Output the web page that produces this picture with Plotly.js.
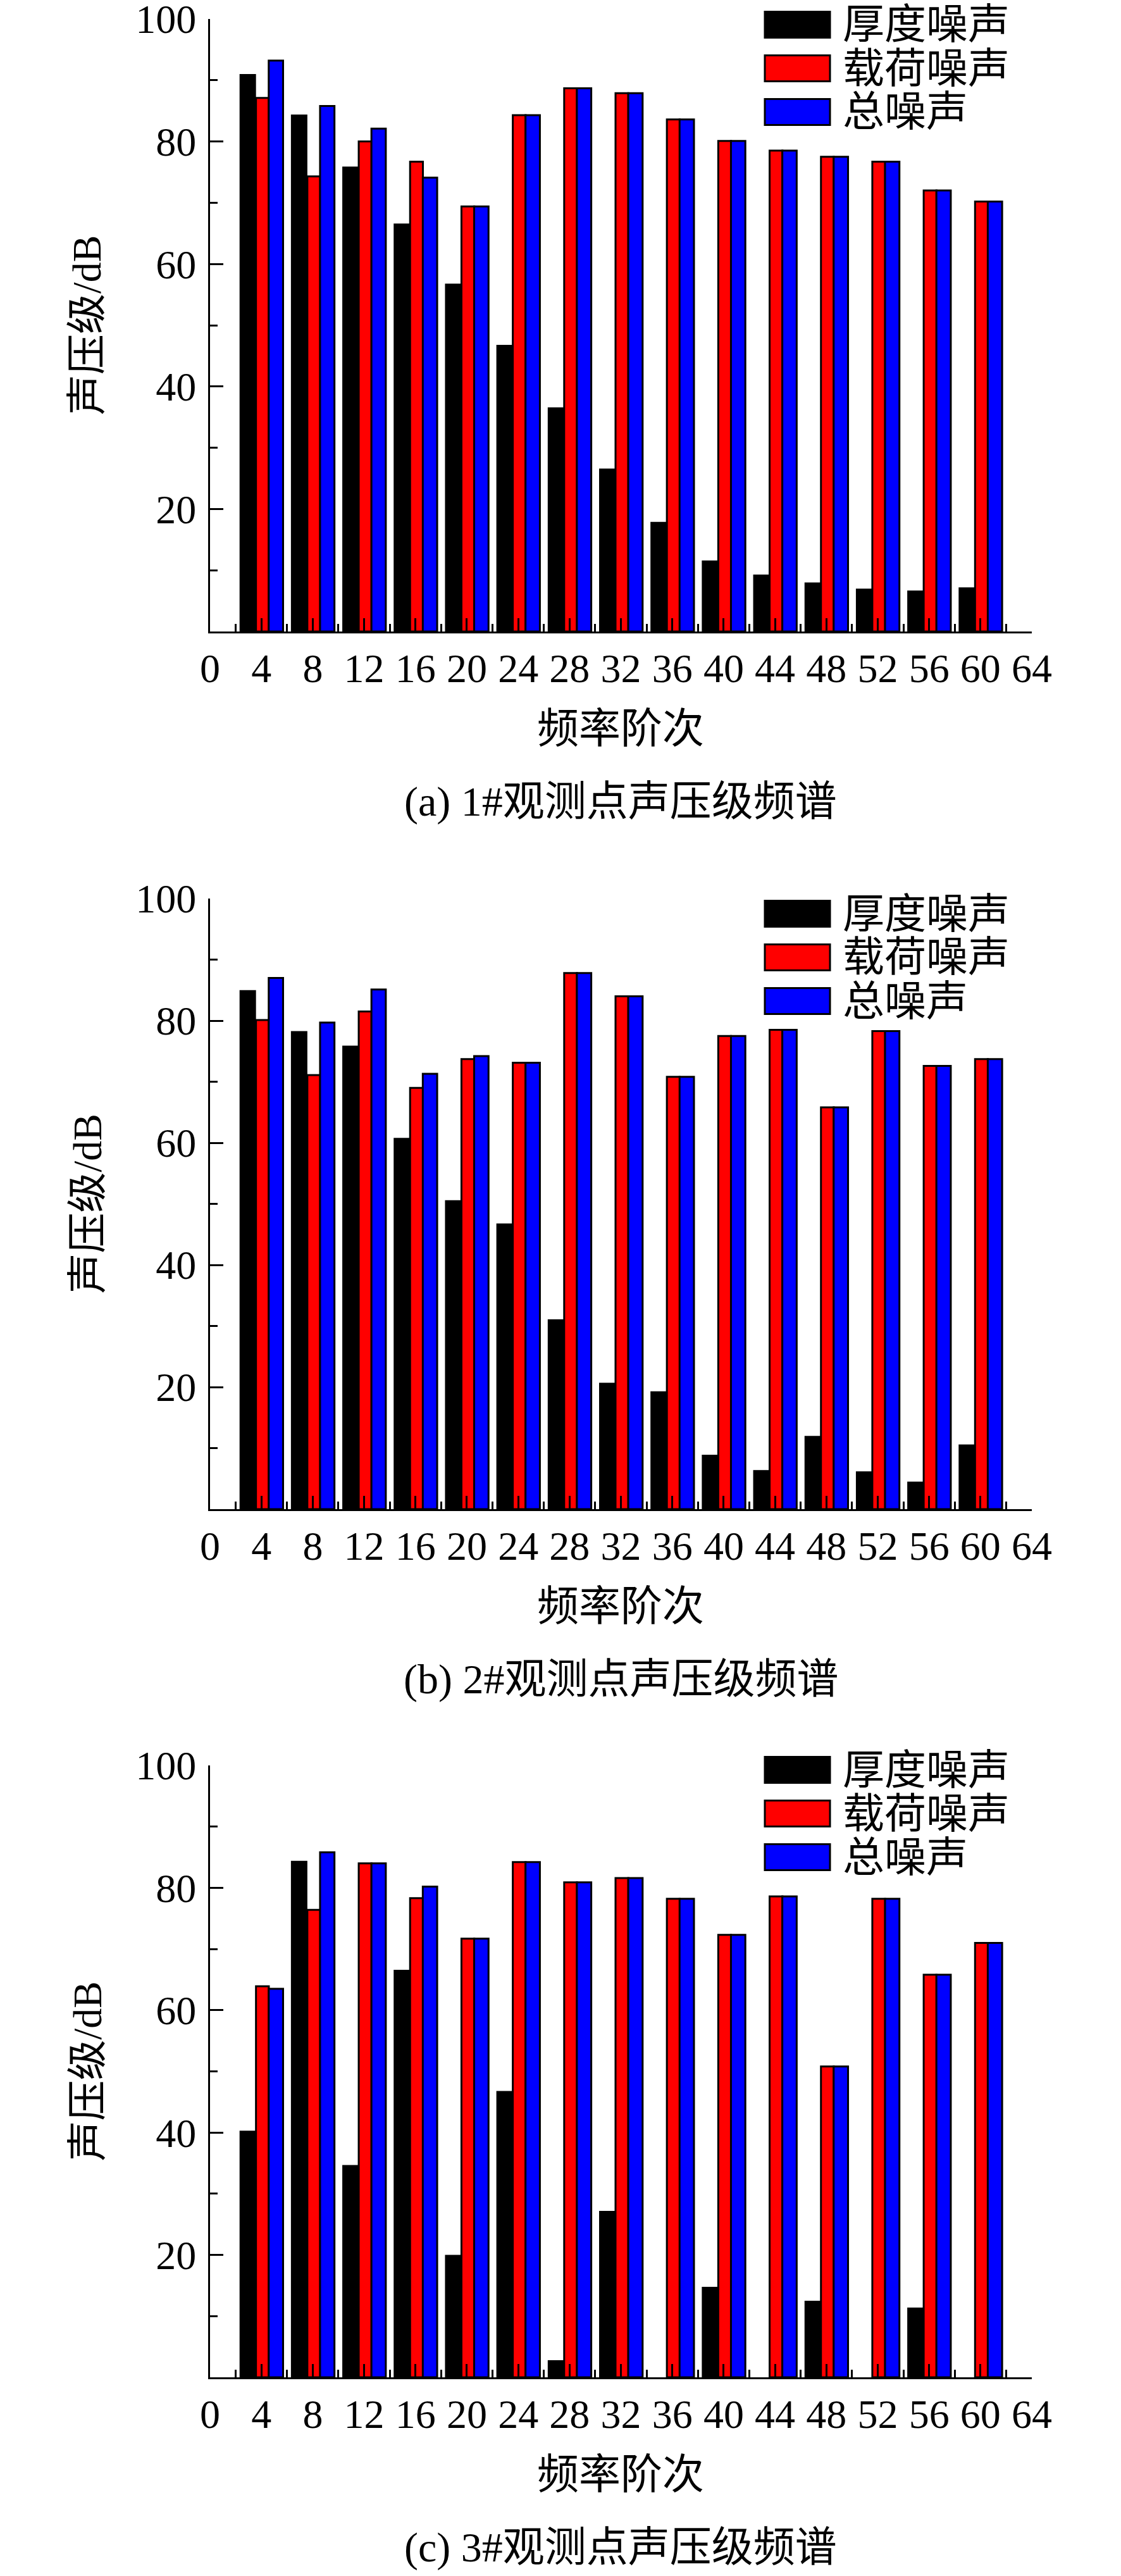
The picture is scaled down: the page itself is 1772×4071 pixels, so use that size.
<!DOCTYPE html>
<html>
<head>
<meta charset="utf-8">
<script src="https://cdn.plot.ly/plotly-3.0.1.min.js"></script>
<style>html,body{margin:0;padding:0;background:#fff}</style>
</head>
<body>
<div id="chart" style="width:1772px;height:4071px"></div>
<script>
// frequency orders on the x axis
const orders = [4, 8, 12, 16, 20, 24, 28, 32, 36, 40, 44, 48, 52, 56, 60]
const seriesNames = ['厚度噪声', '载荷噪声', '总噪声']
const xTickVals = [0, 4, 8, 12, 16, 20, 24, 28, 32, 36, 40, 44, 48, 52, 56, 60, 64]
const yTickVals = [20, 40, 60, 80, 100]

// (a) observation point 1
const thick1 = [91.0, 84.4, 75.9, 66.6, 56.8, 46.8, 36.6, 26.6, 17.9, 11.6, 9.3, 8.0, 7.0, 6.7, 7.2]
const load1 = [87.1, 74.3, 80.0, 76.7, 69.4, 84.3, 88.7, 87.9, 83.6, 80.1, 78.5, 77.5, 76.7, 72.0, 70.2]
const total1 = [93.2, 85.8, 82.1, 74.1, 69.4, 84.3, 88.7, 87.9, 83.6, 80.1, 78.5, 77.5, 76.7, 72.0, 70.2]

// (b) observation point 2
const thick2 = [85.0, 78.3, 75.9, 60.8, 50.6, 46.8, 31.1, 20.7, 19.3, 8.9, 6.4, 12.0, 6.2, 4.5, 10.6]
const load2 = [80.1, 71.1, 81.5, 69.0, 73.7, 73.1, 87.8, 84.0, 70.8, 77.5, 78.5, 65.8, 78.3, 72.6, 73.7]
const total2 = [87.0, 79.7, 85.1, 71.3, 74.2, 73.1, 87.8, 84.0, 70.8, 77.5, 78.5, 65.8, 78.3, 72.6, 73.7]

// (c) observation point 3
const thick3 = [40.3, 84.4, 34.7, 66.6, 20.0, 46.8, 2.8, 27.2, 0, 14.8, 0, 12.5, 0, 11.4, 0]
const load3 = [63.9, 76.4, 84.0, 78.3, 71.7, 84.2, 80.9, 81.6, 78.2, 72.3, 78.6, 50.8, 78.2, 65.8, 71.0]
const total3 = [63.5, 85.8, 84.0, 80.2, 71.7, 84.2, 80.9, 81.6, 78.2, 72.3, 78.6, 50.8, 78.2, 65.8, 71.0]

const captions = ['(a) 1#观测点声压级频谱', '(b) 2#观测点声压级频谱', '(c) 3#观测点声压级频谱']
const xTitle = '频率阶次'
const yTitle = '声压级/dB'

const W = 1772, H = 4071
const px = x => x / W
const py = y => 1 - y / H

const FONT = 'Liberation Serif, "Times New Roman", "Noto Sans CJK SC", serif'
const CJK = 'Liberation Serif, "Noto Sans CJK SC", serif'

// pixel boxes of the three plot areas
const panels = [
  { top: 30, bottom: 998, legend: 39, data: [thick1, load1, total1] },
  { top: 1420, bottom: 2385, legend: 1444, data: [thick2, load2, total2] },
  { top: 2790, bottom: 3757, legend: 2797, data: [thick3, load3, total3] }
]
const left = 332, right = 1631

const barStyle = [
  { color: '#000000', offset: -1.70, width: 1.28, line: 0 },
  { color: '#ff0000', offset: -0.42, width: 1.0, line: 3 },
  { color: '#0000ff', offset: 0.57, width: 1.12, line: 3 }
]

let traces = []
let layout = {
  width: W, height: H,
  margin: { l: 0, r: 0, t: 0, b: 0 },
  paper_bgcolor: '#fff', plot_bgcolor: '#fff',
  barmode: 'overlay',
  showlegend: false,
  font: { family: FONT, color: '#000', size: 64 },
  shapes: [],
  annotations: []
}

panels.forEach((p, i) => {
  let n = i == 0 ? '' : String(i + 1)
  p.data.forEach((vals, k) => {
    let s = barStyle[k]
    traces.push({
      type: 'bar', name: seriesNames[k],
      x: orders, y: vals,
      xaxis: 'x' + n, yaxis: 'y' + n,
      offset: s.offset, width: s.width,
      marker: { color: s.color, line: { color: '#000', width: s.line } },
      hoverinfo: 'x+y'
    })
  })
  let common = {
    showgrid: false, zeroline: false,
    showline: true, linecolor: '#000', linewidth: 3,
    ticks: 'inside', tickcolor: '#000', tickwidth: 3, ticklen: 21,
    tickfont: { family: FONT, size: 64, color: '#000' },
    ticklabeloverflow: 'allow',
    minor: { ticks: 'inside', ticklen: 12, tickwidth: 3, tickcolor: '#000' },
    fixedrange: true
  }
  layout['xaxis' + n] = Object.assign({}, common, {
    domain: [px(left), px(right)],
    anchor: 'y' + n,
    range: [0, 64],
    tickvals: xTickVals,
    ticklabelstandoff: 0,
    minor: Object.assign({}, common.minor, { dtick: 2, tick0: 0 })
  })
  layout['yaxis' + n] = Object.assign({}, common, {
    domain: [py(p.bottom), py(p.top)],
    anchor: 'x' + n,
    range: [0, 100],
    tickvals: yTickVals,
    ticklabelstandoff: 6,
    minor: Object.assign({}, common.minor, { dtick: 10, tick0: 0 })
  })

  // axis titles and caption
  layout.annotations.push({
    xref: 'paper', yref: 'paper', x: px((left + right) / 2), y: py(p.bottom + 153),
    text: xTitle, showarrow: false, xanchor: 'center', yanchor: 'middle',
    font: { family: CJK, size: 66 }
  })
  layout.annotations.push({
    xref: 'paper', yref: 'paper', x: px((left + right) / 2), y: py(p.bottom + 269),
    text: captions[i], showarrow: false, xanchor: 'center', yanchor: 'middle',
    font: { family: CJK, size: 66 }
  })
  layout.annotations.push({
    xref: 'paper', yref: 'paper', x: px(138), y: py((p.top + p.bottom) / 2),
    text: yTitle, showarrow: false, textangle: -90, xanchor: 'center', yanchor: 'middle',
    font: { family: CJK, size: 64 }
  })

  // legend drawn by hand: big swatches
  seriesNames.forEach((name, k) => {
    let cy = p.legend + k * 69
    layout.shapes.push({
      type: 'rect', xref: 'paper', yref: 'paper',
      x0: px(1209), x1: px(1312), y0: py(cy - 20.5), y1: py(cy + 20.5),
      fillcolor: barStyle[k].color,
      line: { color: '#000', width: 3 }
    })
    layout.annotations.push({
      xref: 'paper', yref: 'paper', x: px(1330), y: py(cy),
      text: name, showarrow: false, xanchor: 'left', yanchor: 'middle',
      font: { family: CJK, size: 66 }
    })
  })
})

Plotly.newPlot('chart', traces, layout, { staticPlot: true })
</script>
</body>
</html>
